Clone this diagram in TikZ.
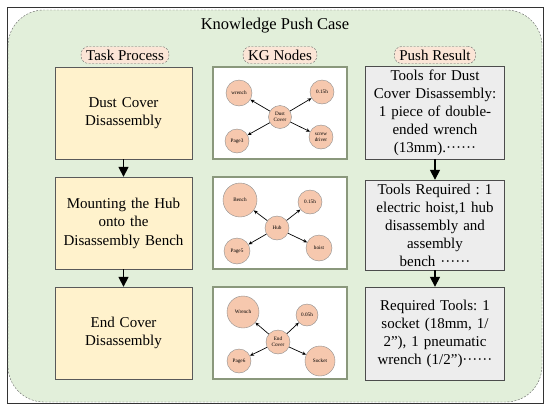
\documentclass[tikz,border=0pt]{standalone}
\usepackage{fontspec}
\setmainfont{Liberation Serif}
\usetikzlibrary{arrows.meta}
\definecolor{CaseGreen}{HTML}{E2EFDA}
\definecolor{TaskFill}{HTML}{FFF2CC}
\definecolor{PushFill}{HTML}{EDEDED}
\definecolor{TagFill}{HTML}{FBE5D6}
\definecolor{KGFill}{HTML}{F6C8AE}
\definecolor{KGEdge}{HTML}{8E8E8E}
\definecolor{FrameGreen}{HTML}{8A987C}
\newcommand{\moredots}{\textperiodcentered\textperiodcentered\textperiodcentered\textperiodcentered\textperiodcentered\textperiodcentered}
\frenchspacing
\begin{document}
\begin{tikzpicture}[x=1pt,y=-1pt,
  tag/.style={draw=black!60,dash pattern=on 2pt off 1.5pt,fill=TagFill,rounded corners=7.5pt,
    minimum height=17pt,inner xsep=5pt,inner ysep=1pt,font=\fontsize{15}{17}\selectfont},
  taskbox/.style={draw=black!65,fill=TaskFill,minimum width=133pt,minimum height=92pt,
    text width=130pt,align=center,font=\fontsize{15}{18.5}\selectfont},
  kgbox/.style={draw=FrameGreen,line width=1.2pt,fill=white,minimum width=134pt,minimum height=92pt},
  pushbox/.style={draw=black!70,fill=PushFill,minimum width=134pt,minimum height=90pt,
    text width=132pt,align=center,font=\fontsize{15}{18}\selectfont},
  kgnode/.style={circle,draw=KGEdge,fill=KGFill,inner sep=0pt,align=center,
    font=\fontsize{5.2}{5.8}\selectfont},
  flow/.style={line width=1.6pt,-{Triangle[length=10pt,width=10pt]}},
  link/.style={line width=0.7pt,-{Stealth[length=4pt,width=3.5pt]}}]
\useasboundingbox (0,0) rectangle (550,410);
\draw[black!80,line width=0.5pt] (7,7) rectangle (543,403);
\draw[black!60,dash pattern=on 2pt off 1.5pt,fill=CaseGreen,rounded corners=36pt] (8,10) rectangle (542,402);
\node[font=\fontsize{16.5}{18}\selectfont] (title) at (275,26) {Knowledge Push Case};

% column headers
\node[tag] (hTask) at (125,55) {Task Process};
\node[tag] (hKG) at (280,55) {KG Nodes};
\node[tag] (hPush) at (435,55) {Push Result};

% task process
\node[taskbox] (t1) at (123.5,113) {Dust Cover\\Disassembly};
\node[taskbox] (t2) at (123.5,223) {Mounting the Hub\\onto the\\Disassembly Bench};
\node[taskbox] (t3) at (123.5,333) {End Cover\\Disassembly};
\draw[flow] (t1) -- (t2);
\draw[flow] (t2) -- (t3);

% KG nodes
\node[kgbox] (k1) at (280,113) {};
\node[kgbox] (k2) at (280,223) {};
\node[kgbox] (k3) at (280,333) {};

\node[kgnode,minimum size=23pt] (dc) at (280,117) {Dust\\Cover};
\node[kgnode,minimum size=26pt] (dcA) at (239,93) {wrench};
\node[kgnode,minimum size=24pt] (dcB) at (322,92) {0.15h};
\node[kgnode,minimum size=24pt] (dcC) at (237,141) {Page3};
\node[kgnode,minimum size=24pt] (dcD) at (321,137) {screw\\driver};
\foreach \n in {dcA,dcB,dcC,dcD} \draw[link] (dc) -- (\n);

\node[kgnode,minimum size=24pt] (hub) at (277,228) {Hub};
\node[kgnode,minimum size=34pt] (hubA) at (240,200) {Bench};
\node[kgnode,minimum size=24pt] (hubB) at (310,202) {0.15h};
\node[kgnode,minimum size=26pt] (hubC) at (237,251) {Page5};
\node[kgnode,minimum size=26pt] (hubD) at (319,248) {hoist};
\foreach \n in {hubA,hubB,hubC,hubD} \draw[link] (hub) -- (\n);

\node[kgnode,minimum size=24pt] (ec) at (278,342) {End\\Cover};
\node[kgnode,minimum size=32pt] (ecA) at (243,312) {Wrench};
\node[kgnode,minimum size=22pt] (ecB) at (307,315) {0.05h};
\node[kgnode,minimum size=24pt] (ecC) at (239,361) {Page6};
\node[kgnode,minimum size=30pt] (ecD) at (320,361) {Socket};
\foreach \n in {ecA,ecB,ecC,ecD} \draw[link] (ec) -- (\n);

% push result
\node[pushbox,minimum height=91pt] (p1) at (435,112.5) {Tools for Dust\\Cover Disassembly:\\1 piece of double-\\ended wrench\\(13mm).\moredots};
\node[pushbox] (p2) at (435,225) {Tools Required : 1\\electric hoist,1 hub\\disassembly and\\assembly\\bench \moredots};
\node[pushbox,minimum height=93pt] (p3) at (435,333.5) {Required Tools: 1\\socket (18mm, 1/\\2”), 1 pneumatic\\wrench (1/2”)\moredots};
\draw[flow] (p1) -- (p2);
\draw[flow] (p2) -- (p3);
\end{tikzpicture}
\end{document}
